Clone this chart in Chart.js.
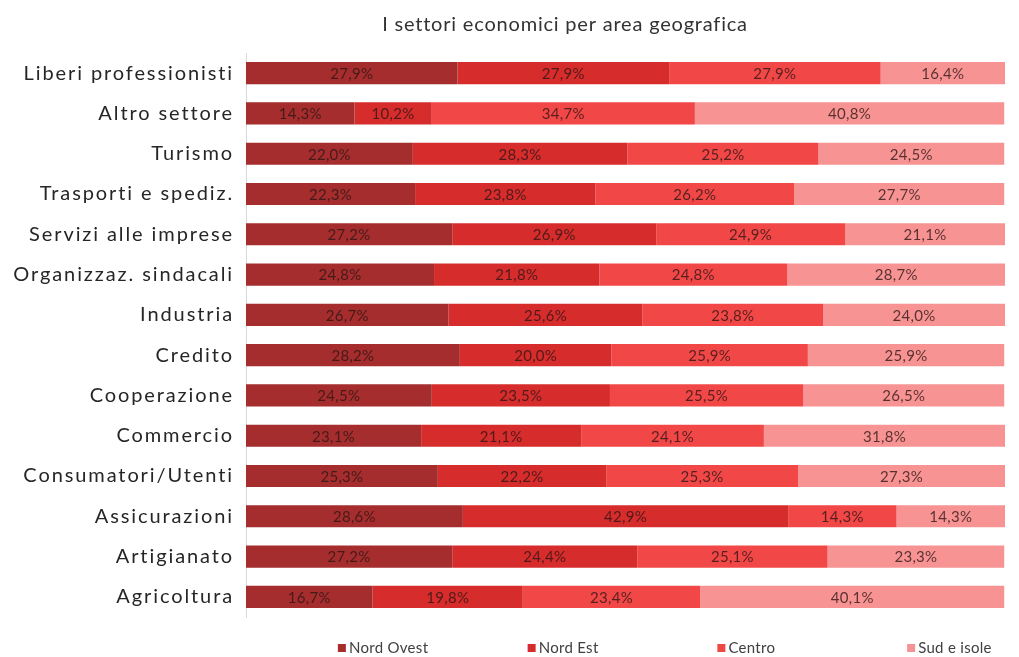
<!DOCTYPE html>
<html>
<head>
<meta charset="utf-8">
<script src="https://cdn.jsdelivr.net/npm/chart.js@4/dist/chart.umd.min.js"></script>
<style>
  html, body { margin: 0; padding: 0; background: #fff; }
  #c { display: block; }
</style>
</head>
<body>
<canvas id="c" width="1019" height="657"></canvas>
<script>
// settori economici, quota per area geografica (%)
const categories = [
  "Liberi professionisti", "Altro settore", "Turismo", "Trasporti e spediz.",
  "Servizi alle imprese", "Organizzaz. sindacali", "Industria", "Credito",
  "Cooperazione", "Commercio", "Consumatori/Utenti", "Assicurazioni",
  "Artigianato", "Agricoltura"
];
const nordOvest = [27.9, 14.3, 22.0, 22.3, 27.2, 24.8, 26.7, 28.2, 24.5, 23.1, 25.3, 28.6, 27.2, 16.7];
const nordEst   = [27.9, 10.2, 28.3, 23.8, 26.9, 21.8, 25.6, 20.0, 23.5, 21.1, 22.2, 42.9, 24.4, 19.8];
const centro    = [27.9, 34.7, 25.2, 26.2, 24.9, 24.8, 23.8, 25.9, 25.5, 24.1, 25.3, 14.3, 25.1, 23.4];
const sudIsole  = [16.4, 40.8, 24.5, 27.7, 21.1, 28.7, 24.0, 25.9, 26.5, 31.8, 27.3, 14.3, 23.3, 40.1];
const seriesNames = ["Nord Ovest", "Nord Est", "Centro", "Sud e isole"];
const COLORS = ["#a52d2d", "#d62c2c", "#f24747", "#f79393"];
const FONT = "Lato, 'Open Sans', sans-serif";

// spaziatura lettere: titolo nel beforeDraw, etichette asse y avvolgendo drawLabels;
// il titolo viene spostato un po' a destra rispetto al centro del canvas
const spacing = {
  id: "spacing",
  afterLayout(chart) {
    if (chart.titleBlock) { chart.titleBlock.left = 111; chart.titleBlock.right = 1019; }
    const s = chart.scales.y;
    if (s._spaced) return;
    const orig = s.drawLabels;
    s.drawLabels = function (area) {
      const ctx = this.ctx;
      ctx.save();
      ctx.letterSpacing = "1.9px";
      orig.call(this, area);
      ctx.restore();
    };
    s._spaced = true;
  },
  beforeDraw(chart) { chart.ctx.letterSpacing = "0.8px"; },
  beforeDatasetsDraw(chart) { chart.ctx.letterSpacing = "0px"; }
};

// etichette percentuali al centro di ogni segmento
const valueLabels = {
  id: "valueLabels",
  afterDatasetsDraw(chart) {
    const ctx = chart.ctx;
    ctx.save();
    ctx.font = "15px " + FONT;
    ctx.letterSpacing = "0.3px";
    ctx.fillStyle = "rgba(45,20,20,0.78)";
    ctx.textAlign = "center";
    ctx.textBaseline = "middle";
    chart.data.datasets.forEach((ds, di) => {
      chart.getDatasetMeta(di).data.forEach((bar, i) => {
        const cx = (bar.x + bar.base) / 2;
        ctx.fillText(ds.data[i].toFixed(1).replace(".", ",") + "%", cx, bar.y + 1);
      });
    });
    ctx.restore();
  }
};

// legenda in basso con voci distribuite sulla larghezza dell'area dati
const spreadLegend = {
  id: "spreadLegend",
  afterDraw(chart) {
    const { ctx, chartArea } = chart;
    const slot = (chartArea.right - chartArea.left) / chart.data.datasets.length;
    const y = 648;
    ctx.save();
    ctx.font = "15px " + FONT;
    ctx.letterSpacing = "0.3px";
    ctx.textBaseline = "middle";
    ctx.textAlign = "left";
    chart.data.datasets.forEach((ds, i) => {
      const x = chartArea.left + slot * i + slot / 2 - 3;
      ctx.fillStyle = ds.backgroundColor;
      ctx.fillRect(x, y - 4, 8, 8);
      ctx.fillStyle = "#404040";
      ctx.fillText(ds.label, x + 11, y);
    });
    ctx.restore();
  }
};

new Chart(document.getElementById("c"), {
  type: "bar",
  data: {
    labels: categories,
    datasets: [nordOvest, nordEst, centro, sudIsole].map((d, i) => ({
      label: seriesNames[i], data: d, backgroundColor: COLORS[i],
      borderWidth: 0, categoryPercentage: 0.55, barPercentage: 1
    }))
  },
  options: {
    indexAxis: "y", responsive: false, animation: false,
    layout: { padding: { left: 8, right: 14, top: 0, bottom: 40 } },
    plugins: {
      legend: { display: false },
      tooltip: { enabled: false },
      title: {
        display: true, text: "I settori economici per area geografica",
        color: "#333333", font: { family: FONT, size: 20, weight: "normal" },
        padding: { top: 13, bottom: 16 }
      }
    },
    scales: {
      x: { stacked: true, min: 0, max: 100.1, display: false },
      y: {
        stacked: true,
        afterFit: (s) => { s.width = 238; },
        grid: { display: false, drawTicks: false },
        border: { display: true, color: "#d9d9d9" },
        ticks: { color: "#262626", padding: 12, font: { family: FONT, size: 20 } }
      }
    }
  },
  plugins: [spacing, valueLabels, spreadLegend]
});
</script>
</body>
</html>
